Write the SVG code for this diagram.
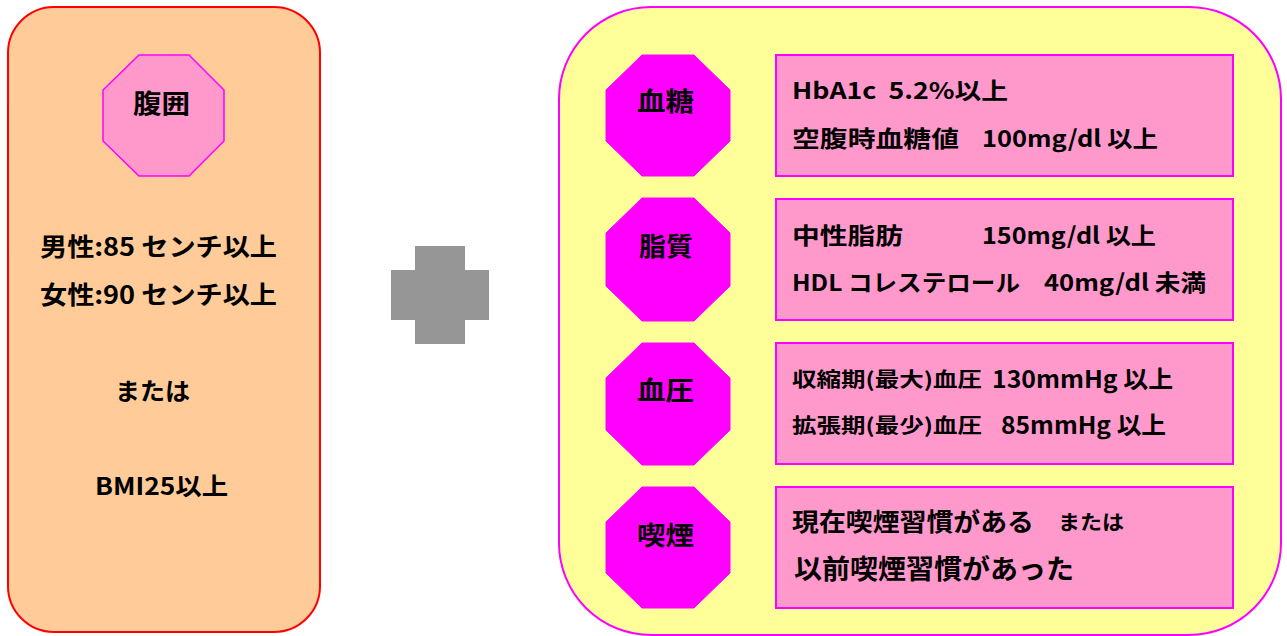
<svg xmlns="http://www.w3.org/2000/svg" width="1287" height="636" viewBox="0 0 1287 636">
<style>
text{font-family:"Noto Sans CJK JP","Liberation Sans",sans-serif;font-weight:bold;fill:#000}
.oct{fill:#FF00FF;stroke:#FF00FF;stroke-width:1}
.octL{fill:#FF99CC;stroke:#FF00FF;stroke-width:1.5}
.box{fill:#FF99CC;stroke:#FF00FF;stroke-width:2}
.lbl{font-size:26px}
.t{font-size:23px}
</style>
<rect width="1287" height="636" fill="#FFFFFF"/>
<g id="left-panel">
<rect x="8" y="7" width="312" height="625" rx="46" ry="46" fill="#FFCC99" stroke="#FF0000" stroke-width="2"/>
</g>
<g id="node-fukui">
<polygon class="octL" points="139,55 189,55 224,90 224,141 189,176 139,176 103,141 103,90"/>
<text class="lbl" x="133" y="113" textLength="57" lengthAdjust="spacingAndGlyphs">腹囲</text>
</g>
<g id="left-text">
<text x="40" y="256" font-size="25" textLength="237" lengthAdjust="spacingAndGlyphs" xml:space="preserve">男性:85 センチ以上</text>
<text x="40" y="304" font-size="25" textLength="237" lengthAdjust="spacingAndGlyphs" xml:space="preserve">女性:90 センチ以上</text>
<text x="115" y="400" font-size="24" textLength="75" lengthAdjust="spacingAndGlyphs">または</text>
<text x="95" y="495" font-size="24" textLength="133" lengthAdjust="spacingAndGlyphs">BMI25以上</text>
</g>
<g id="plus">
<polygon fill="#969696" points="415,246 465,246 465,270 489,270 489,320 465,320 465,344 415,344 415,320 391,320 391,270 415,270"/>
</g>
<g id="right-panel">
<rect x="559" y="7" width="722" height="628" rx="92" ry="92" fill="#FFFF99" stroke="#FF00FF" stroke-width="2"/>
</g>
<g id="node-kettou">
<polygon class="oct" points="642,55 694,55 730,90 730,141 694,176 642,176 606,141 606,90"/>
<text class="lbl" x="637" y="111" textLength="57" lengthAdjust="spacingAndGlyphs">血糖</text>
</g>
<g id="box-kettou">
<rect class="box" x="776" y="55" width="457" height="121"/>
<text class="t" x="792" y="99" font-size="22" textLength="216" lengthAdjust="spacingAndGlyphs" xml:space="preserve">HbA1c  5.2%以上</text>
<text class="t" x="792" y="147" textLength="167" lengthAdjust="spacingAndGlyphs">空腹時血糖値</text>
<text class="t" x="982" y="147" textLength="176" lengthAdjust="spacingAndGlyphs" xml:space="preserve">100mg/dl 以上</text>
</g>
<g id="node-shishitsu">
<polygon class="oct" points="642,198 694,198 730,233 730,286 694,321 642,321 606,286 606,233"/>
<text class="lbl" x="639" y="256" textLength="54" lengthAdjust="spacingAndGlyphs">脂質</text>
</g>
<g id="box-shishitsu">
<rect class="box" x="776" y="199" width="457" height="121"/>
<text class="t" x="792" y="244" textLength="111" lengthAdjust="spacingAndGlyphs">中性脂肪</text>
<text class="t" x="982" y="244" textLength="174" lengthAdjust="spacingAndGlyphs" xml:space="preserve">150mg/dl 以上</text>
<text class="t" x="792" y="291" textLength="228" lengthAdjust="spacingAndGlyphs" xml:space="preserve">HDL コレステロール</text>
<text class="t" x="1044" y="291" textLength="162" lengthAdjust="spacingAndGlyphs" xml:space="preserve">40mg/dl 未満</text>
</g>
<g id="node-ketsuatsu">
<polygon class="oct" points="642,343 694,343 730,378 730,430 694,465 642,465 606,430 606,378"/>
<text class="lbl" x="637" y="400" textLength="57" lengthAdjust="spacingAndGlyphs">血圧</text>
</g>
<g id="box-ketsuatsu">
<rect class="box" x="776" y="343" width="457" height="121"/>
<text x="792" y="387" font-size="20" textLength="190" lengthAdjust="spacingAndGlyphs">収縮期(最大)血圧</text>
<text x="992" y="388" font-size="24" textLength="181" lengthAdjust="spacingAndGlyphs" xml:space="preserve">130mmHg 以上</text>
<text x="792" y="433" font-size="20" textLength="190" lengthAdjust="spacingAndGlyphs">拡張期(最少)血圧</text>
<text x="1001" y="434" font-size="24" textLength="165" lengthAdjust="spacingAndGlyphs" xml:space="preserve">85mmHg 以上</text>
</g>
<g id="node-kitsuen">
<polygon class="oct" points="642,487 694,487 730,522 730,573 694,608 642,608 606,573 606,522"/>
<text class="lbl" x="637" y="545" textLength="57" lengthAdjust="spacingAndGlyphs">喫煙</text>
</g>
<g id="box-kitsuen">
<rect class="box" x="776" y="487" width="457" height="121"/>
<text x="792" y="531" font-size="25" textLength="242" lengthAdjust="spacingAndGlyphs">現在喫煙習慣がある</text>
<text x="1058" y="530" font-size="20" textLength="66" lengthAdjust="spacingAndGlyphs">または</text>
<text x="794" y="579" font-size="27" textLength="280" lengthAdjust="spacingAndGlyphs">以前喫煙習慣があった</text>
</g>
<g id="connectors"></g>
</svg>
